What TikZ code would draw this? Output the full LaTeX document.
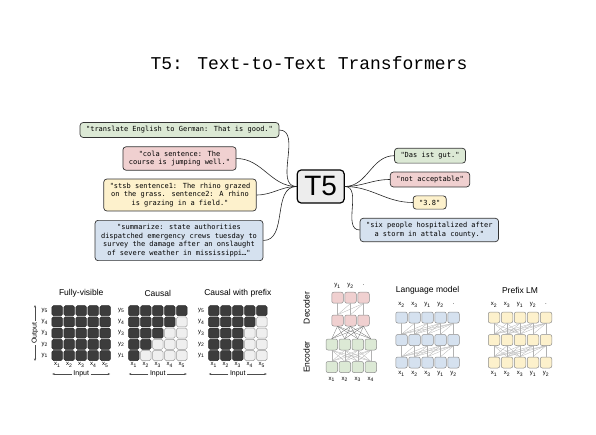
\documentclass[tikz,border=0pt]{standalone}
\usepackage{fontspec}
\setmainfont{Liberation Sans}
\setsansfont{Liberation Sans}
\newfontfamily\titlefont{Liberation Mono}
\newfontfamily\boxfont{DejaVu Sans Mono}
\usetikzlibrary{arrows.meta}

\definecolor{tgreen}{HTML}{DCE9D5}
\definecolor{tred}{HTML}{F0D0D0}
\definecolor{tyellow}{HTML}{FDF1CC}
\definecolor{tblue}{HTML}{D5E1EF}
\definecolor{celldark}{HTML}{3C3C3C}
\definecolor{celllight}{HTML}{EFEFEF}

\tikzset{
  titletext/.style={font=\titlefont\fontsize{18}{18}\selectfont, inner sep=0pt},
  txtbox/.style={draw=black!80, line width=0.7pt, rounded corners=3pt, align=center,
    font=\boxfont\fontsize{7}{8.5}\selectfont, inner xsep=6pt, inner ysep=4pt},
  tfivebox/.style={draw=black, line width=1.2pt, rounded corners=4pt, fill=black!7,
    minimum width=47pt, minimum height=33pt, inner sep=0pt,
    font=\sffamily\fontsize{28}{28}\selectfont},
  wire/.style={line width=0.6pt, black!85},
  masktitle/.style={font=\sffamily\fontsize{8.5}{9}\selectfont, inner sep=0pt},
  lab/.style={font=\sffamily\fontsize{6}{6}\selectfont, inner sep=0pt},
  axislab/.style={font=\sffamily\fontsize{7}{7}\selectfont, inner sep=1.5pt},
  axisarrow/.style={-{Stealth[length=2.5pt,width=2pt]}, line width=0.5pt, black!70},
  cell/.style={minimum width=10.5pt, minimum height=10pt, inner sep=0pt,
    rounded corners=1.5pt, line width=0.5pt},
  darkcell/.style={cell, fill=celldark, draw=black!85},
  lightcell/.style={cell, fill=celllight, draw=black!40},
  unit/.style={draw=black!45, rounded corners=2pt, minimum width=11.5pt,
    minimum height=11pt, inner sep=0pt, line width=0.5pt},
  link/.style={draw=gray!60, line width=0.3pt}
}

\begin{document}
\begin{tikzpicture}[x=1pt,y=-1pt]
\useasboundingbox (0,0) rectangle (596,435);

\node[titletext] (title) at (309,63) {T5: Text-to-Text Transformers};

% inputs
\node[txtbox,fill=tgreen] (q1) at (179.5,130)
  {"translate English to German: That is good."};
\node[txtbox,fill=tred] (q2) at (179.5,158.5)
  {"cola sentence: The\\course is jumping well."};
\node[txtbox,fill=tyellow] (q3) at (180,195)
  {"stsb sentence1: The rhino grazed\\on the grass. sentence2: A rhino\\is grazing in a field."};
\node[txtbox,fill=tblue] (q4) at (179,240.5)
  {"summarize: state authorities\\dispatched emergency crews tuesday to\\survey the damage after an onslaught\\of severe weather in mississippi…"};

\node[tfivebox] (tfive) at (320.7,186.5) {T5};

% outputs
\node[txtbox,fill=tgreen] (a1) at (430,155.7) {"Das ist gut."};
\node[txtbox,fill=tred] (a2) at (430,179.5) {"not acceptable"};
\node[txtbox,fill=tyellow] (a3) at (429.7,202.5) {"3.8"};
\node[txtbox,fill=tblue] (a4) at (429.3,230)
  {"six people hospitalized after\\a storm in attala county."};

\foreach \q in {q1,q2,q3,q4}
  \draw[wire] (\q.east) to[out=0,in=180] (tfive.west);
\foreach \a in {a1,a2,a3,a4}
  \draw[wire] (tfive.east) to[out=0,in=180] (\a.west);

% attention masks
\foreach \g/\gx/\p/\name in {fv/57.2/5/Fully-visible, ca/133.8/1/Causal, pf/213.8/3/Causal with prefix} {
  \node[masktitle] (\g-title) at (\gx+24,293) {\name};
  \foreach \r in {1,...,5} {
    \node[lab] (\g-y\r) at ({\gx-12.5},{310.7+(5-\r)*11.2}) {y\textsubscript{\r}};
    \foreach \c in {1,...,5} {
      \pgfmathtruncatemacro\dk{int(\c<=max(\r,\p))}
      \ifnum\dk=1
        \node[darkcell] (\g-\c-\r) at ({\gx+(\c-1)*12},{310.7+(5-\r)*11.2}) {};
      \else
        \node[lightcell] (\g-\c-\r) at ({\gx+(\c-1)*12},{310.7+(5-\r)*11.2}) {};
      \fi
    }
  }
  \foreach \c in {1,...,5}
    \node[lab] (\g-x\c) at ({\gx+(\c-1)*12},365) {x\textsubscript{\c}};
  \node[axislab] (\g-in) at (\gx+24,374) {Input};
  \coordinate (\g-inl) at (\gx-5,374);
  \coordinate (\g-inr) at (\gx+53,374);
  \draw[axisarrow] (\g-in) -- (\g-inl);
  \draw[axisarrow] (\g-in) -- (\g-inr);
}
\node[axislab,rotate=90] (fv-out) at (35,333) {Output};
\coordinate (fv-outt) at (35,305);
\coordinate (fv-outb) at (35,361);
\draw[axisarrow] (fv-out) -- (fv-outt);
\draw[axisarrow] (fv-out) -- (fv-outb);

% encoder-decoder
\foreach \i in {1,...,4} {
  \node[unit,fill=tgreen] (enc1-\i) at ({331.75+(\i-1)*13},367) {};
  \node[unit,fill=tgreen] (enc2-\i) at ({331.75+(\i-1)*13},344.5) {};
  \node[lab] (encx-\i) at ({331.75+(\i-1)*13},379.5) {x\textsubscript{\i}};
}
\foreach \i in {1,...,3} {
  \node[unit,fill=tred] (dec1-\i) at ({337.5+(\i-1)*13},320.5) {};
  \node[unit,fill=tred] (dec2-\i) at ({337.5+(\i-1)*13},297.7) {};
}
\node[lab] (decy-1) at (337.5,286) {y\textsubscript{1}};
\node[lab] (decy-2) at (350.5,286) {y\textsubscript{2}};
\node[lab] (decy-3) at (363.5,285) {.};
\foreach \i in {1,...,4}
  \foreach \j in {1,...,4}
    \draw[link] (enc1-\j.north) -- (enc2-\i.south);
\foreach \i in {1,...,3}
  \foreach \j in {1,...,4}
    \draw[link,draw=black!55] (enc2-\j.north) -- (dec1-\i.south);
\foreach \i in {1,...,3}
  \foreach \j in {1,...,\i}
    \draw[link] (dec1-\j.north) -- (dec2-\i.south);
\node[masktitle,rotate=90] (enclab) at (306.7,357) {Encoder};
\node[masktitle,rotate=90] (declab) at (306.7,308) {Decoder};

% language model and prefix LM
\foreach \g/\gx/\p/\gc/\name in {lm/401.5/1/tblue/Language model, pl/494/3/tyellow/Prefix LM} {
  \node[masktitle] (\g-title) at (\gx+26,290.7) {\name};
  \foreach \r/\ry in {1/362.5,2/340,3/317.5}
    \foreach \i in {1,...,5}
      \node[unit,fill=\gc] (\g\r-\i) at ({\gx+(\i-1)*13},\ry) {};
  \foreach \r/\s in {1/2,2/3}
    \foreach \i in {1,...,5}
      \foreach \j in {1,...,5} {
        \pgfmathtruncatemacro\ok{int(\j<=max(\i,\p))}
        \ifnum\ok=1 \draw[link] (\g\r-\j.north) -- (\g\s-\i.south); \fi
      }
  \foreach \i/\v/\k in {1/x/1,2/x/2,3/x/3,4/y/1,5/y/2}
    \node[lab] (\g-b\i) at ({\gx+(\i-1)*13},374) {\v\textsubscript{\k}};
  \foreach \i/\v/\k in {1/x/2,2/x/3,3/y/1,4/y/2}
    \node[lab] (\g-t\i) at ({\gx+(\i-1)*13},305) {\v\textsubscript{\k}};
  \node[lab] (\g-t5) at ({\gx+52},304) {.};
}
\end{tikzpicture}
\end{document}
